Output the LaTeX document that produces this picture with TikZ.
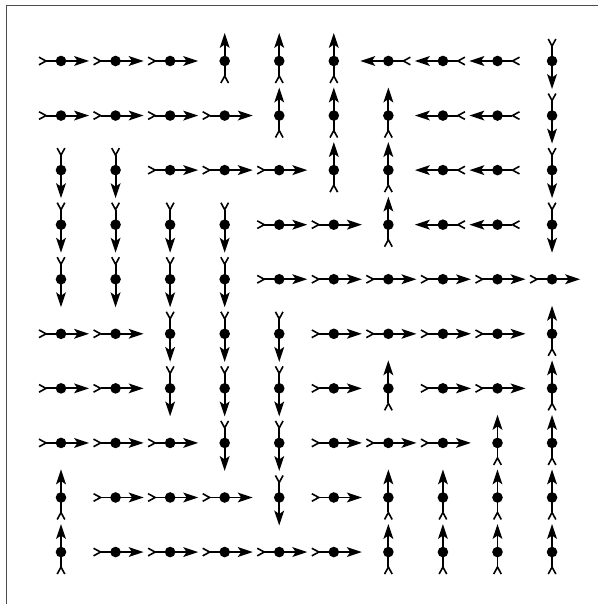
\documentclass[tikz,border=0pt]{standalone}
\begin{document}
\begin{tikzpicture}[x=1pt,y=-1pt,
  cell/.pic={
    \draw[line width=1.9pt] (-15,0) -- (20,0);
    \draw[line width=1.6pt] (-22,3.8) -- (-15,0) -- (-22,-3.8);
    \fill (28,0) -- (13,5) -- (16.5,0) -- (13,-5) -- cycle;
    \fill (0,0) circle (5.3);
  }]
\useasboundingbox (0,0) rectangle (597,604);
\fill[white] (0,0) rectangle (597,604);
\draw[line width=1pt, black!70] (6,610) -- (6,6) -- (610,6);
\expandafter\def\csname angR\endcsname{0}
\expandafter\def\csname angU\endcsname{90}
\expandafter\def\csname angL\endcsname{180}
\expandafter\def\csname angD\endcsname{270}
\foreach \row/\dirs in {
  1/{R,R,R,U,U,U,L,L,L,D},
  2/{R,R,R,R,U,U,U,L,L,D},
  3/{D,D,R,R,R,U,U,L,L,D},
  4/{D,D,D,D,R,R,U,L,L,D},
  5/{D,D,D,D,R,R,R,R,R,R},
  6/{R,R,D,D,D,R,R,R,R,U},
  7/{R,R,D,D,D,R,U,R,R,U},
  8/{R,R,R,D,D,R,R,R,U,U},
  9/{U,R,R,R,D,R,U,U,U,U},
  10/{U,R,R,R,R,R,U,U,U,U}} {
  \foreach \d [count=\col] in \dirs {
    \edef\tmpang{\csname ang\d\endcsname}
    \pic[rotate=\tmpang] at ({61+54.56*(\col-1)},{61+54.56*(\row-1)}) {cell};
  }
}
\end{tikzpicture}
\end{document}
